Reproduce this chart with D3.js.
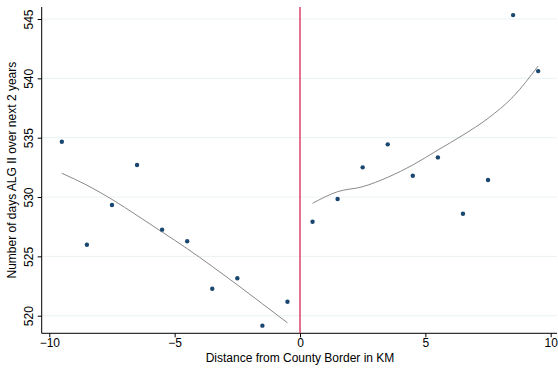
<!DOCTYPE html>
<html>
<head>
<meta charset="utf-8">
<script src="https://cdn.jsdelivr.net/npm/d3@7"></script>
<style>
  body { margin: 0; background: #fff; }
  svg { display: block; font-family: "Liberation Sans", Arial, sans-serif; }
</style>
</head>
<body>
<div id="chart"></div>
<script>
// binned scatter, left and right of the border
const leftX = [-9.5, -8.5, -7.5, -6.5, -5.5, -4.5, -3.5, -2.5, -1.5, -0.5];
const leftY = [534.66, 525.98, 529.33, 532.70, 527.25, 526.27, 522.27, 523.15, 519.16, 521.18];
const rightX = [0.5, 1.5, 2.5, 3.5, 4.5, 5.5, 6.5, 7.5, 8.5, 9.5];
const rightY = [527.92, 529.83, 532.50, 534.44, 531.79, 533.34, 528.59, 531.43, 545.33, 540.61];

// lowess fits at the same bins
const leftFit = [532.0, 531.0, 529.8, 528.45, 527.05, 525.65, 524.15, 522.6, 521.0, 519.4];
const rightFit = [529.47, 530.45, 530.87, 531.66, 532.7, 533.96, 535.22, 536.63, 538.45, 541.04];

const xTicks = [-10, -5, 0, 5, 10];
const yTicks = [520, 525, 530, 535, 540, 545];

const width = 558;
const height = 370;
const plot = { left: 41.7, right: 557, top: 7, bottom: 333.3 };

const svg = d3.select('#chart')
  .append('svg')
  .attr('width', width)
  .attr('height', height);

const x = d3.scaleLinear().domain([-10, 10]).range([49.3, 550.7]);
const y = d3.scaleLinear().domain([520, 545]).range([315.7, 19]);

// grid
svg.append('g')
  .selectAll('line')
  .data(yTicks)
  .join('line')
  .attr('x1', plot.left)
  .attr('x2', plot.right)
  .attr('y1', d => y(d))
  .attr('y2', d => y(d))
  .attr('stroke', '#eaf2f3')
  .attr('stroke-width', 1);

const fmt = d => String(d).replace('-', '\u2212');

// x axis
const xAxis = svg.append('g')
  .attr('transform', `translate(0, ${plot.bottom})`)
  .call(d3.axisBottom(x).tickValues(xTicks).tickSize(4).tickFormat(fmt));
xAxis.select('.domain').remove();
xAxis.selectAll('line').attr('stroke', '#000');
xAxis.selectAll('text').attr('font-size', 12).attr('fill', '#000').attr('dy', '0.6em');

svg.append('line')
  .attr('x1', plot.left).attr('x2', plot.right)
  .attr('y1', plot.bottom).attr('y2', plot.bottom)
  .attr('stroke', '#000').attr('stroke-width', 1);

// y axis
const yAxis = svg.append('g')
  .attr('transform', `translate(${plot.left}, 0)`)
  .call(d3.axisLeft(y).tickValues(yTicks).tickSize(4));
yAxis.select('.domain').remove();
yAxis.selectAll('line').attr('stroke', '#000');
yAxis.selectAll('text')
  .attr('font-size', 12)
  .attr('fill', '#000')
  .attr('x', 0)
  .attr('dy', 0)
  .attr('text-anchor', 'middle')
  .attr('transform', 'translate(-9, 0) rotate(-90)');

svg.append('line')
  .attr('x1', plot.left).attr('x2', plot.left)
  .attr('y1', plot.top).attr('y2', plot.bottom)
  .attr('stroke', '#000').attr('stroke-width', 1);

// border line
svg.append('line')
  .attr('x1', x(0)).attr('x2', x(0))
  .attr('y1', plot.top).attr('y2', plot.bottom)
  .attr('stroke', '#d8345f').attr('stroke-width', 1.4);

// fits
const line = d3.line().x(d => x(d[0])).y(d => y(d[1])).curve(d3.curveMonotoneX);
[[leftX, leftFit], [rightX, rightFit]].forEach(([xs, ys]) => {
  svg.append('path')
    .datum(xs.map((v, i) => [v, ys[i]]))
    .attr('fill', 'none')
    .attr('stroke', '#8a8a8a')
    .attr('stroke-width', 1)
    .attr('d', line);
});

// points
const points = leftX.map((v, i) => [v, leftY[i]]).concat(rightX.map((v, i) => [v, rightY[i]]));
svg.append('g')
  .selectAll('circle')
  .data(points)
  .join('circle')
  .attr('cx', d => x(d[0]))
  .attr('cy', d => y(d[1]))
  .attr('r', 2.2)
  .attr('fill', '#1a476f');

// titles
svg.append('text')
  .attr('x', x(0))
  .attr('y', 362)
  .attr('text-anchor', 'middle')
  .attr('font-size', 12)
  .text('Distance from County Border in KM');

svg.append('text')
  .attr('transform', `translate(16, ${(plot.top + plot.bottom) / 2}) rotate(-90)`)
  .attr('text-anchor', 'middle')
  .attr('font-size', 12)
  .text('Number of days ALG II over next 2 years');
</script>
</body>
</html>
